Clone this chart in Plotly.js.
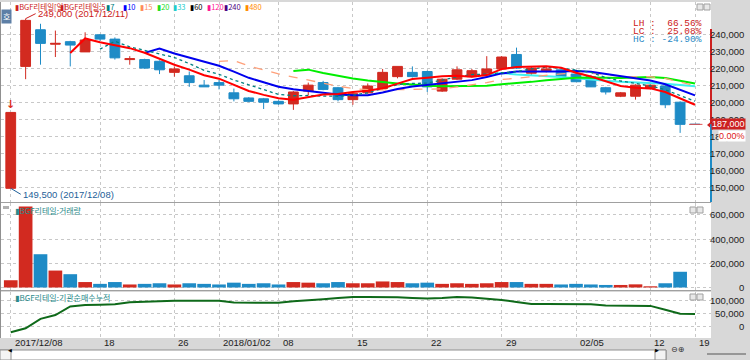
<!DOCTYPE html>
<html><head><meta charset="utf-8">
<script src="https://cdn.plot.ly/plotly-3.0.1.min.js"></script>
<style>html,body{margin:0;padding:0;background:#fff}#chart{width:750px;height:360px}</style>
</head><body><div id="chart"></div>
<script>
const dates = ['2017/12/08','12/11','12/12','12/13','12/14','12/15','12/18','12/19','12/20','12/21','12/22','12/26','12/27','12/28',
 '2018/01/02','01/03','01/04','01/05','01/08','01/09','01/10','01/11','01/12','01/15','01/16','01/17','01/18','01/19',
 '01/22','01/23','01/24','01/25','01/26','01/29','01/30','01/31','02/01','02/02','02/05','02/06','02/07','02/08','02/09',
 '02/12','02/13','02/14','02/19'];
const open  = [149500,221000,242500,234000,235500,229500,239500,237000,225000,225000,224000,217500,215500,210000,
 211500,205500,202500,202000,200500,199000,206500,211500,208500,201500,205500,208000,215000,217500,
 218000,206500,213500,215000,215500,219500,228000,217000,218500,219000,216500,215000,208500,203500,203500,
 208000,209500,200000,187000];
const high  = [194000,249000,246000,242000,236000,241000,240000,238000,227000,225500,224500,221000,218000,213000,
 213000,208000,203000,202500,201000,206500,211500,212500,209000,206000,211000,219500,221000,221000,
 218500,214000,221000,219500,227000,227000,232000,221000,221000,219500,217500,216000,209000,206000,210500,
 210500,210500,200500,187000];
const low   = [149500,213500,222000,226500,221000,229500,236000,225000,222000,219500,216500,215000,209000,209000,
 207500,200500,200000,196000,198500,195500,204000,207000,200500,198500,205000,207500,214000,214500,
 206000,206000,213000,214500,215000,219000,219500,216000,217500,215000,212000,210000,204500,203000,201500,
 207500,196500,182000,187000];
const close = [194000,248000,234500,234500,233500,236500,237000,226000,225500,220000,219000,219500,211500,209000,
 210000,202000,200500,200000,199000,206000,210000,207500,201500,205000,209500,217500,221000,215000,
 209000,213500,219000,218500,219500,226500,220000,220000,219500,215000,212000,209000,206000,205500,210000,
 210000,198500,187000,187000];
const volume = [60000,670000,275000,140000,110000,45000,30000,45000,25000,30000,35000,25000,35000,30000,
 25000,40000,30000,35000,25000,45000,40000,35000,45000,35000,35000,50000,45000,35000,
 40000,30000,35000,30000,35000,45000,45000,30000,30000,25000,30000,25000,21000,21000,26000,
 10000,35000,130000,0];
const instCum = [-21000,-6000,30000,45000,78000,83000,84000,86000,94000,96000,99000,100000,100000,100000,
 100000,93000,92000,92000,92000,98000,103000,106000,110000,114000,114000,114000,113000,110000,
 108000,110000,114000,112000,107000,103000,95000,87000,87000,87000,87000,86000,82000,81000,80000,
 80000,65000,50000,49000];
const maPeriods = [5,7,10,15,20,33];
const headerPeriods = [5,7,10,15,20,33,60,120,240,480];
const xTickIdx  = [0,6,11,14,18,23,28,33,38,43,46];
const xTickText = ['2017/12/08','18','26','2018/01/02','08','15','22','29','02/05','12','19'];
const priceTicks = [150000,160000,170000,180000,190000,200000,210000,220000,230000,240000];
const volTicks = [0,200000,400000,600000];
const instTicks = [0,50000,100000];

// ---- styling / geometry ----
const RED='#d22a20', BLUE='#1e8bc6';
const maStyle = {5:{c:'#ff0000',w:2,d:'solid'},7:{c:'#008080',w:1.3,d:'dot'},10:{c:'#0000ee',w:2,d:'solid'},
 15:{c:'#ffa07a',w:1.3,d:'dash'},20:{c:'#00ee00',w:2,d:'solid'},33:{c:'#40f0f0',w:2,d:'solid'}};
const hdrColor = {5:'#cc2020',7:'#008080',10:'#0000ff',15:'#ff8c5a',20:'#22dd22',33:'#22cccc',60:'#000000',120:'#ff1493',240:'#4b0082',480:'#ff8c00'};
const hdrX = {5:58,7:104,10:121,15:138,20:155,33:171,60:188,120:205,240:222,480:243};
const L=1,R=39,T=2,B=22,W=750,H=360;
const PW=W-L-R, PH=H-T-B;
const px = x => (x-L)/PW;
const py = y => (H-B-y)/PH;
const idx = close.map((_,i)=>i);

function sma(p){return close.map((_,i)=> i<p-1?null: close.slice(i-p+1,i+1).reduce((a,b)=>a+b,0)/p);}
const fmt = v => v.toLocaleString('en-US');

const traces = [];
traces.push({type:'candlestick',x:idx,open:open,high:high,low:low,close:close,xaxis:'x',yaxis:'y',
  increasing:{line:{color:RED,width:1},fillcolor:RED},decreasing:{line:{color:BLUE,width:1},fillcolor:BLUE},
  whiskerwidth:0,hoverinfo:'skip',showlegend:false});
maPeriods.slice().reverse().forEach(p=>{
  const s=maStyle[p];
  traces.push({type:'scatter',mode:'lines',x:idx,y:sma(p),xaxis:'x',yaxis:'y',line:{color:s.c,width:s.w,dash:s.d},
    hoverinfo:'skip',showlegend:false,connectgaps:false});
});
traces.push({type:'bar',x:idx,y:volume,xaxis:'x',yaxis:'y2',width:0.92,
  marker:{color:close.map((c,i)=>c>=open[i]?RED:BLUE),line:{width:0}},hoverinfo:'skip',showlegend:false});
traces.push({type:'scatter',mode:'lines',x:idx,y:instCum,xaxis:'x',yaxis:'y3',line:{color:'#0f6a1a',width:2},
  hoverinfo:'skip',showlegend:false});

const gridC='#c8c8c8';
const yBase = {side:'right',showticklabels:false,ticks:'',zeroline:false,showgrid:true,gridcolor:gridC,griddash:'dot',gridwidth:1,fixedrange:true,anchor:'x'};
const layout = {
  width:W,height:H,margin:{l:L,r:R,t:T,b:B},paper_bgcolor:'#d8d8d8',plot_bgcolor:'#ffffff',
  showlegend:false,boxgap:0.06,bargap:0.08,
  xaxis:{range:[-(10.75-L)/14.875,-(10.75-L)/14.875+PW/14.875],tickvals:xTickIdx,showticklabels:false,ticks:'',
    showgrid:true,gridcolor:gridC,griddash:'dot',zeroline:false,rangeslider:{visible:false},fixedrange:true},
  yaxis:Object.assign({},yBase,{domain:[py(202),1],range:[240000-(202-34)*586.5,240000+(34-2)*586.5],tickvals:priceTicks}),
  yaxis2:Object.assign({},yBase,{domain:[py(290),py(203)],range:[-(290-287.5)*8264,(287.5-203)*8264],tickvals:volTicks}),
  yaxis3:Object.assign({},yBase,{domain:[0,py(292)],range:[-(338-326.7)*3846,(326.7-292)*3846],tickvals:instTicks}),
  annotations:[],shapes:[]
};
const A=layout.annotations, S=layout.shapes;
const lab = {family:'Liberation Sans, Arial, sans-serif',size:9.5,color:'#222'};
// right axis labels
priceTicks.forEach(v=>A.push({xref:'paper',yref:'y',x:px(746),y:v,xanchor:'right',yanchor:'middle',text:fmt(v),showarrow:false,font:lab}));
volTicks.forEach(v=>A.push({xref:'paper',yref:'y2',x:px(746),y:v,xanchor:'right',yanchor:'middle',text:fmt(v),showarrow:false,font:lab}));
instTicks.forEach(v=>A.push({xref:'paper',yref:'y3',x:px(746),y:v,xanchor:'right',yanchor:'middle',text:fmt(v),showarrow:false,font:lab}));
// x labels
xTickIdx.forEach((v,k)=>A.push({xref:'x',yref:'paper',x:v,y:py(342),xanchor:'left',yanchor:'middle',xshift:2,text:xTickText[k],showarrow:false,font:lab}));
// header
const kfont = (c,s)=>({family:'Noto Sans CJK KR, DejaVu Sans, sans-serif',size:s||7.5,color:c});
A.push({xref:'paper',yref:'paper',x:px(13),y:py(7),xanchor:'left',yanchor:'middle',text:'▮BGF리테일[일]',showarrow:false,font:kfont('#cc2020')});
headerPeriods.forEach(p=>A.push({xref:'paper',yref:'paper',x:px(hdrX[p]),y:py(7),xanchor:'left',yanchor:'middle',
  text:(p===5?'<span style="color:#cc2020">▮BGF리테일:5</span>':'▮'+p),showarrow:false,font:kfont(hdrColor[p])}));
A.push({xref:'paper',yref:'paper',x:px(7),y:py(17),xanchor:'center',yanchor:'middle',text:'호',showarrow:false,
  font:kfont('#ffffff',8),bgcolor:'#5d7fa6',borderpad:1});
// high / low markers
const hiIdx = high.indexOf(Math.max(...high)), loIdx = low.indexOf(Math.min(...low));
A.push({xref:'x',yref:'y',x:hiIdx,y:high[hiIdx],ax:10,ay:-5,xanchor:'left',yanchor:'middle',showarrow:true,arrowhead:0,arrowwidth:1,arrowcolor:'#cc2020',
  text:fmt(high[hiIdx])+' (2017/'+dates[hiIdx]+')',font:{family:'Liberation Sans, Arial',size:9.5,color:'#cc2020'}});
A.push({xref:'x',yref:'y',x:loIdx,y:low[loIdx],ax:10,ay:6,xanchor:'left',yanchor:'middle',showarrow:true,arrowhead:0,arrowwidth:1,arrowcolor:'#1f5f99',
  text:fmt(low[loIdx])+' ('+dates[loIdx]+')',font:{family:'Liberation Sans, Arial',size:9.5,color:'#1f5f99'}});
A.push({xref:'x',yref:'y',x:0,y:high[0],yshift:8,text:'<b>↓</b>',showarrow:false,font:{family:'DejaVu Sans',size:11,color:'#e03020'}});
// LH LC HC
const last = close[close.length-1];
const LH=(high[hiIdx]/low[loIdx]-1)*100, LC=(last/low[loIdx]-1)*100, HC=(last/high[hiIdx]-1)*100;
const mono={family:'Liberation Mono, DejaVu Sans Mono, monospace',size:9.5};
[['LH :  '+LH.toFixed(2)+'%',24,'#cc2020'],['LC :  '+LC.toFixed(2)+'%',31.5,'#cc2020'],['HC : '+HC.toFixed(2)+'%',39,'#2a8ac6']].forEach(r=>
  A.push({xref:'paper',yref:'paper',x:px(704),y:py(r[1]),xanchor:'right',yanchor:'middle',text:r[0].replace(/ /g,'&nbsp;'),showarrow:false,font:Object.assign({color:r[2]},mono)}));
// current price tag
S.push({type:'path',xref:'paper',yref:'paper',path:`M ${px(707)} ${py(125)} L ${px(713)} ${py(120)} L ${px(713)} ${py(130)} Z`,
  fillcolor:'#cc2222',line:{width:0}});
A.push({xref:'paper',yref:'y',x:px(746),y:last,xanchor:'right',yanchor:'middle',text:fmt(last),showarrow:false,
  font:{family:'Liberation Sans, Arial',size:9,color:'#ffffff'},bgcolor:'#cc2222',borderpad:0});
A.push({xref:'paper',yref:'y',x:px(746),y:last,yshift:-12,xanchor:'right',yanchor:'middle',
  text:((last/close[close.length-2]-1)*100).toFixed(2)+'%',showarrow:false,
  font:{family:'Liberation Sans, Arial',size:9,color:'#e02020'},bgcolor:'#ffffff',borderpad:0});
// pane labels
A.push({xref:'paper',yref:'paper',x:px(13),y:py(210),xanchor:'left',yanchor:'middle',text:'▮BGF리테일:거래량',showarrow:false,font:kfont('#2a8a8a',8)});
A.push({xref:'paper',yref:'paper',x:px(13),y:py(297),xanchor:'left',yanchor:'middle',text:'▮BGF리테일:기관순매수누적',showarrow:false,font:kfont('#2a8a8a',8)});

// price range bar at right edge of pane
S.push({type:'line',xref:'paper',yref:'y',x0:px(711),x1:px(711),y0:243000,y1:last,line:{color:'#cc2020',width:2}});
S.push({type:'line',xref:'paper',yref:'y',x0:px(711),x1:px(711),y0:last,y1:layout.yaxis.range[0],line:{color:'#1e8bc6',width:2}});
// last price tick line
S.push({type:'line',xref:'x',yref:'y',x0:45.6,x1:46.5,y0:last,y1:last,line:{color:'#e05050',width:1}});
// pane borders
S.push({type:'line',xref:'paper',yref:'paper',x0:0,x1:px(711),y0:py(202.5),y1:py(202.5),line:{color:'#a0a0a0',width:1}});
S.push({type:'line',xref:'paper',yref:'paper',x0:0,x1:px(711),y0:py(290.5),y1:py(290.5),line:{color:'#a0a0a0',width:1}});
S.push({type:'line',xref:'paper',yref:'paper',x0:px(0.5),x1:px(0.5),y0:0,y1:1,line:{color:'#909090',width:1}});
// small window buttons
[[697,4],[704,4],[690,207],[697,207],[690,294],[697,294]].forEach(b=>S.push({type:'rect',xref:'paper',yref:'paper',
  x0:px(b[0]),x1:px(b[0]+6),y0:py(b[1]+6),y1:py(b[1]),line:{color:'#a0a0a0',width:1},fillcolor:'#e8e8e8'}));
S.push({type:'rect',xref:'paper',yref:'paper',x0:px(3),x1:px(9),y0:py(209),y1:py(206),line:{width:0},fillcolor:'#b0b0b0'});
// bottom scrollbar
S.push({type:'rect',xref:'paper',yref:'paper',x0:px(0),x1:px(666),y0:py(360),y1:py(350),line:{color:'#909090',width:1},fillcolor:'#ffffff'});
S.push({type:'rect',xref:'paper',yref:'paper',x0:px(0),x1:px(11),y0:py(360),y1:py(350),line:{color:'#909090',width:1},fillcolor:'#f4f4f4'});
S.push({type:'rect',xref:'paper',yref:'paper',x0:px(655),x1:px(666),y0:py(360),y1:py(350),line:{color:'#909090',width:1},fillcolor:'#f4f4f4'});
A.push({xref:'paper',yref:'paper',x:px(5.5),y:py(355),text:'◀',showarrow:false,font:{size:5,color:'#000'}});
A.push({xref:'paper',yref:'paper',x:px(660.5),y:py(355),text:'▶',showarrow:false,font:{size:5,color:'#000'}});
A.push({xref:'paper',yref:'paper',x:px(669),y:py(356),xanchor:'left',text:'⊖⊕',showarrow:false,font:{family:'DejaVu Sans',size:8,color:'#333'}});
S.push({type:'line',xref:'paper',yref:'paper',x0:px(707),x1:px(746),y0:py(354),y1:py(354),line:{color:'#555',width:1}});

Plotly.newPlot('chart',traces,layout,{staticPlot:true,displayModeBar:false});
</script></body></html>
